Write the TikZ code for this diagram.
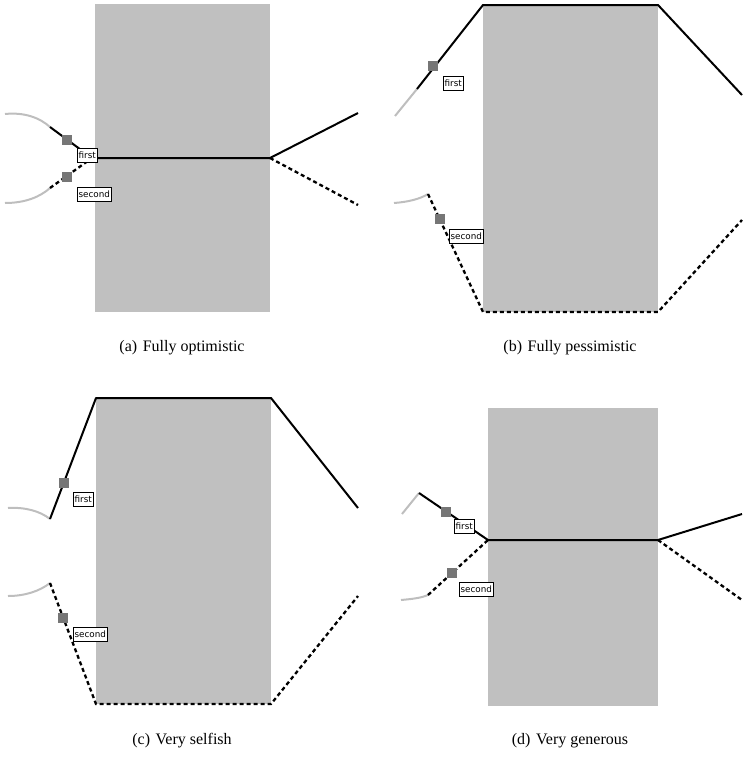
\documentclass[tikz,border=0pt]{standalone}
\usepackage{fontspec}
\setmainfont{Liberation Serif}
\newfontfamily\labfont{DejaVu Sans}
\definecolor{panelgray}{RGB}{192,192,192}
\definecolor{arcgray}{RGB}{190,190,190}
\definecolor{sqgray}{RGB}{118,118,118}
\tikzset{
  panel/.style={fill=panelgray, draw=none},
  solidline/.style={line width=2pt, black, line join=round},
  dashline/.style={line width=2.3pt, black, dash pattern=on 4pt off 3pt},
  grayarc/.style={line width=2pt, arcgray},
  sq/.style={fill=sqgray, draw=none, minimum size=10pt, inner sep=0pt},
  lab/.style={draw, fill=white, line width=0.6pt, font=\labfont\fontsize{8.8}{9}\selectfont, inner sep=1.3pt, minimum height=14pt, anchor=north west},
  captext/.style={font=\fontsize{16}{19}\selectfont}
}
\begin{document}
\begin{tikzpicture}[x=1pt,y=-1pt]
\useasboundingbox (0,0) rectangle (742,763);
% ---------- (a)
\fill[panel] (95,4) rectangle (270,312);
\coordinate (a1) at (50,127); \coordinate (aj) at (92,158); \coordinate (ar) at (270,158);
\coordinate (a2) at (50,188);
\draw[grayarc] (5,114) .. controls (25,112) and (40,118) .. (a1);
\draw[grayarc] (5,203) .. controls (25,203) and (40,197) .. (a2);
\draw[dashline] (ar) -- (358,205);
\draw[dashline] (a2) -- (aj);
\draw[solidline] (a1) -- (aj) -- (ar) -- (358,113);
\node[sq] (asq1) at (67,140) {};
\node[sq] (asq2) at (67,177) {};
\node[lab] (afirst) at (77,148) {first};
\node[lab] (asecond) at (77,187) {second};
\node[captext] (capa) at (182,348) {(a)\hspace{0.35em}Fully optimistic};
% ---------- (b)
\fill[panel] (483,4) rectangle (658,312);
\coordinate (b1) at (417,89); \coordinate (btl) at (483,5); \coordinate (btr) at (658,5);
\coordinate (b2) at (428,194); \coordinate (bbl) at (483,312); \coordinate (bbr) at (658,312);
\draw[grayarc] (395,116) -- (b1);
\draw[grayarc] (394,203) .. controls (408,202) and (420,199) .. (b2);
\draw[solidline] (b1) -- (btl) -- (btr) -- (742,95);
\draw[dashline] (b2) -- (bbl) -- (bbr) -- (742,220);
\node[sq] (bsq1) at (433,66) {};
\node[sq] (bsq2) at (440,219) {};
\node[lab] (bfirst) at (443,76) {first};
\node[lab] (bsecond) at (449,229) {second};
\node[captext] (capb) at (570,348) {(b)\hspace{0.35em}Fully pessimistic};
% ---------- (c)
\fill[panel] (96,398) rectangle (271,704);
\coordinate (c1) at (50,519); \coordinate (ctl) at (96,398); \coordinate (ctr) at (271,398);
\coordinate (c2) at (50,583); \coordinate (cbl) at (96,704); \coordinate (cbr) at (271,704);
\draw[grayarc] (8,508) .. controls (25,507) and (40,511) .. (c1);
\draw[grayarc] (8,596) .. controls (25,596) and (40,591) .. (c2);
\draw[solidline] (c1) -- (ctl) -- (ctr) -- (358,508);
\draw[dashline] (c2) -- (cbl) -- (cbr) -- (358,596);
\node[sq] (csq1) at (64,483) {};
\node[sq] (csq2) at (63,618) {};
\node[lab] (cfirst) at (73,492) {first};
\node[lab] (csecond) at (73,627) {second};
\node[captext] (capc) at (182,741) {(c)\hspace{0.35em}Very selfish};
% ---------- (d)
\fill[panel] (488,408) rectangle (658,706);
\coordinate (d1) at (419,493); \coordinate (dj) at (488,540); \coordinate (dr) at (658,540);
\coordinate (d2) at (428,595);
\draw[grayarc] (402,514) -- (d1);
\draw[grayarc] (401,600) .. controls (412,599) and (421,598) .. (d2);
\draw[dashline] (dr) -- (742,600);
\draw[dashline] (d2) -- (dj);
\draw[solidline] (d1) -- (dj) -- (dr) -- (742,514);
\node[sq] (dsq1) at (446,512) {};
\node[sq] (dsq2) at (452,573) {};
\node[lab] (dfirst) at (454,519) {first};
\node[lab] (dsecond) at (459,582) {second};
\node[captext] (capd) at (570,741) {(d)\hspace{0.35em}Very generous};
\end{tikzpicture}
\end{document}
